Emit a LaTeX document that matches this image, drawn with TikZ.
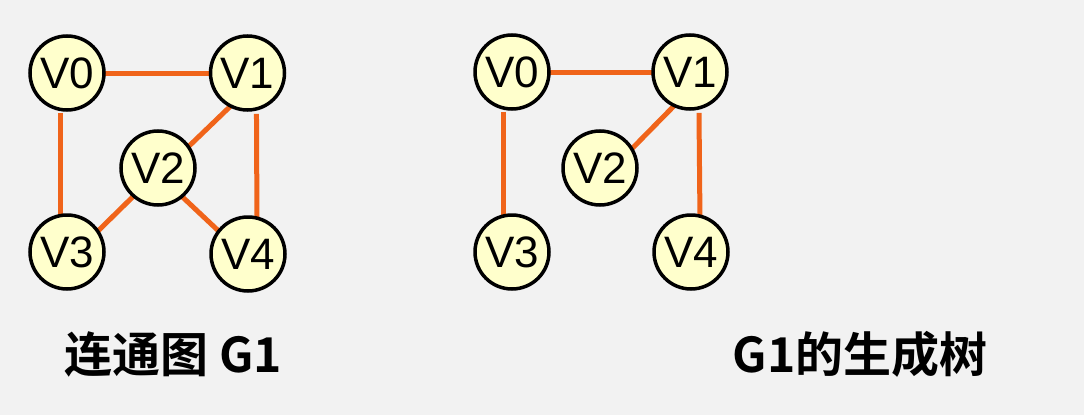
\documentclass[tikz,border=0pt]{standalone}
\usepackage{fontspec}
\setmainfont{Liberation Sans}
\newfontfamily\cjkbold{Noto Sans CJK SC}[BoldFont={* Bold}]
\usetikzlibrary{backgrounds}
\definecolor{bgcol}{HTML}{F2F2F2}
\definecolor{vfill}{HTML}{FFFFCC}
\definecolor{edgecol}{HTML}{F0641A}
\tikzset{
  vtx/.style={circle, draw=black, line width=3.5pt, fill=vfill,
    minimum size=74pt, inner sep=0pt, outer sep=0pt,
    font=\fontsize{44}{44}\selectfont},
  edge/.style={draw=edgecol, line width=5pt},
  caption/.style={font=\cjkbold\bfseries\fontsize{48}{48}\selectfont, inner sep=0pt}
}
\begin{document}
\begin{tikzpicture}[x=1pt, y=-1pt]
\useasboundingbox (0,0) rectangle (1084,415);

% connected graph G1
\node[vtx] (a0) at (67,73) {V0};
\node[vtx] (a1) at (247.5,73) {V1};
\node[vtx] (a2) at (158,168) {V2};
\node[vtx] (a3) at (67,252) {V3};
\node[vtx] (a4) at (248,254) {V4};

% spanning tree of G1
\node[vtx] (b0) at (512,72) {V0};
\node[vtx] (b1) at (690,72) {V1};
\node[vtx] (b2) at (600,168) {V2};
\node[vtx] (b3) at (512,252) {V3};
\node[vtx] (b4) at (691,252) {V4};

\node[caption] (capa) at (173,354) {连通图 G1};
\node[caption] (capb) at (860,354) {G1的生成树};

\begin{scope}[on background layer]
  \fill[bgcol] (0,0) rectangle (1084,415);
  % edges of G1
  \draw[edge] (a0) -- (a1);
  \draw[edge, shorten <=4pt] (a0.260) -- (a3.100);
  \draw[edge, shorten <=5pt] (a1.284) -- (a4.76);
  \draw[edge] (a1.243) -- (a2.35);
  \draw[edge] (a2.229) -- (a3.34);
  \draw[edge] (a2.310) -- (a4.142);
  % edges of the spanning tree
  \draw[edge] (b0) -- (b1);
  \draw[edge, shorten <=4pt] (b0.256) -- (b3.104);
  \draw[edge, shorten <=5pt] (b1.284) -- (b4.76);
  \draw[edge] (b1.245) -- (b2.31);
\end{scope}
\end{tikzpicture}
\end{document}
